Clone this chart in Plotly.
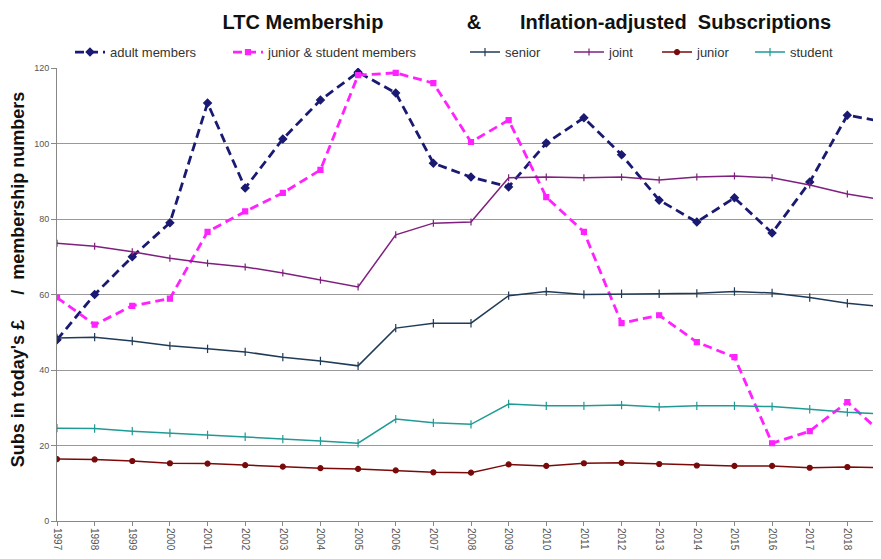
import plotly.graph_objects as go

years = list(range(1997, 2020))
adult_members = [48, 60, 70, 79, 110.7, 88.2, 101.2, 111.5, 118.9, 113.4, 94.8, 91.1, 88.5, 100.1,
                 106.8, 97, 85, 79.2, 85.6, 76.3, 89.8, 107.5, 105.7]
junior_student_members = [59.2, 52, 57, 58.9, 76.6, 82, 86.9, 93, 118.1, 118.7, 116, 100.4, 106.2,
                          85.8, 76.6, 52.4, 54.5, 47.4, 43.4, 20.6, 23.8, 31.5, 22.5]
senior = [48.5, 48.7, 47.7, 46.4, 45.6, 44.8, 43.4, 42.4, 41.1, 51.1, 52.4, 52.4, 59.7, 60.8, 60,
          60.2, 60.2, 60.3, 60.8, 60.4, 59.2, 57.7, 56.7]
joint = [73.6, 72.8, 71.3, 69.6, 68.3, 67.3, 65.7, 63.8, 62, 75.8, 78.9, 79.2, 90.9, 91.1, 90.9,
         91.1, 90.3, 91.1, 91.4, 90.9, 89, 86.6, 85]
junior = [16.4, 16.3, 15.9, 15.3, 15.2, 14.8, 14.4, 14, 13.8, 13.4, 12.9, 12.8, 15, 14.6, 15.3,
          15.4, 15.1, 14.7, 14.6, 14.6, 14.1, 14.3, 14.1]
student = [24.6, 24.5, 23.8, 23.3, 22.8, 22.3, 21.7, 21.2, 20.6, 27, 26, 25.6, 31, 30.5, 30.5,
           30.7, 30.2, 30.5, 30.5, 30.3, 29.6, 28.8, 28.3]

series = [
    ("adult members", adult_members, "#1a1a72", "9px,5px", "diamond", 6, 2.8),
    ("junior & student members", junior_student_members, "#ff22ff", "9px,5px", "square", 5, 2.8),
    ("senior", senior, "#1f3b58", "solid", "line-ns-open", 6, 1.5),
    ("joint", joint, "#7f1f7f", "solid", "line-ns-open", 5, 1.5),
    ("junior", junior, "#7a0a0a", "solid", "circle", 5, 1.5),
    ("student", student, "#1f9a94", "solid", "line-ns-open", 6, 1.5),
]

# legend entry left edges (figure pixels)
legend_px = [62, 220, 457, 561, 649, 742]
plot_left, plot_right = 49, 877
plot_w = plot_right - plot_left

fig = go.Figure()
layout_legends = {}
for i, (name, vals, color, dash, sym, msize, lw) in enumerate(series):
    lg = "legend" if i == 0 else f"legend{i + 1}"
    fig.add_trace(go.Scatter(
        x=years, y=vals, name=name, mode="lines+markers", legend=lg,
        line=dict(color=color, width=lw, dash=dash),
        marker=dict(symbol=sym, size=msize, color=color, line=dict(color=color, width=1.2)),
    ))
    layout_legends[lg] = dict(
        x=(legend_px[i] - plot_left) / plot_w, xanchor="left",
        y=1.035, yanchor="middle", orientation="h",
        font=dict(size=13, color="#333"), bgcolor="rgba(0,0,0,0)",
        borderwidth=0, itemwidth=30,
    )

nb = "\u00a0"
title = "LTC Membership" + nb * 15 + "&" + nb * 7 + "Inflation-adjusted" + nb * 2 + "Subscriptions"
ytitle = nb * 6 + "Subs in today's £" + nb * 5 + "/" + nb * 2 + "membership numbers"

fig.update_layout(
    width=881, height=559,
    margin=dict(l=plot_left, r=881 - plot_right, t=60, b=46),
    paper_bgcolor="white", plot_bgcolor="white",
    font=dict(family="Liberation Sans, Arial, sans-serif", color="#000"),
    title=dict(text="<b>" + title + "</b>", x=0.589, xanchor="center", y=0.975, yanchor="middle",
               font=dict(size=20, color="#111")),
    showlegend=True,
    xaxis=dict(range=[1997, 2019], tickmode="array", tickvals=years,
               ticktext=[str(y) for y in years], tickangle=90,
               tickfont=dict(size=10, color="#555"), ticks="outside", ticklen=4,
               tickcolor="#888", showgrid=False, showline=True, linecolor="#888",
               linewidth=1, zeroline=False, automargin=False),
    yaxis=dict(range=[0, 120], tickmode="array", tickvals=[0, 20, 40, 60, 80, 100, 120],
               tickfont=dict(size=9, color="#555"), ticks="outside", ticklen=5, tickcolor="#888",
               showgrid=True, gridcolor="#999", gridwidth=1, showline=True, linecolor="#888",
               zeroline=False, automargin=False,
               title=dict(text="<b>" + ytitle + "</b>", font=dict(size=18, color="#111"), standoff=7)),
    **layout_legends,
)

fig.write_html("out.html")
